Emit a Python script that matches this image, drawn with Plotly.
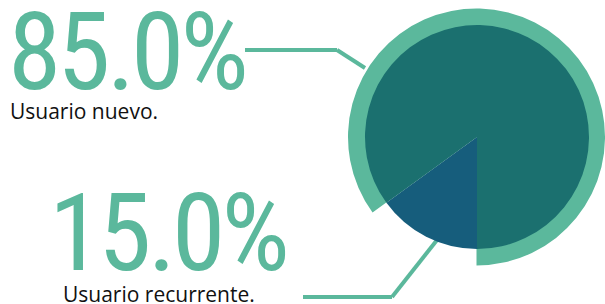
import plotly.graph_objects as go

W, H = 605, 304
labels = ["Usuario recurrente.", "Usuario nuevo."]
values = [15.0, 85.0]
pct_text = ["15.0%", "85.0%"]

GREEN = "#5bb89c"
TEAL = "#1b706f"
BLUE = "#165d7c"

cx, cy = 477, 137
r_in, r_out = 112, 129

def dom(r):
    return dict(x=[(cx - r) / W, min(1, (cx + r) / W)],
                y=[(H - cy - r) / H, (H - cy + r) / H])

fig = go.Figure()
fig.add_trace(go.Pie(values=values, labels=labels, sort=False, direction="clockwise",
                     rotation=180, domain=dom(r_out), textinfo="none", hoverinfo="skip",
                     marker=dict(colors=["rgba(0,0,0,0)", GREEN], line=dict(width=0)),
                     showlegend=False))
fig.add_trace(go.Pie(values=values, labels=labels, sort=False, direction="clockwise",
                     rotation=180, domain=dom(r_in), textinfo="none", hoverinfo="skip",
                     marker=dict(colors=[BLUE, TEAL], line=dict(width=0)),
                     showlegend=False))

def P(x, y):
    return x / W, 1 - y / H

shapes = []
for pts in ([(245, 50), (337, 50), (365, 68)], [(303, 297), (392, 297), (437, 240)]):
    for (x0, y0), (x1, y1) in zip(pts[:-1], pts[1:]):
        a, b = P(x0, y0)
        c, d = P(x1, y1)
        shapes.append(dict(type="line", xref="paper", yref="paper", x0=a, y0=b, x1=c, y1=d,
                           line=dict(color=GREEN, width=4), layer="below"))

big_font = dict(family="Roboto Condensed, Roboto, sans-serif", size=108, color=GREEN)
small_font = dict(family="Open Sans, sans-serif", size=21, color="#111111")

ann = []
def add(x, y, txt, font):
    a, b = P(x, y)
    ann.append(dict(x=a, y=b, xref="paper", yref="paper", text=txt, showarrow=False,
                    xanchor="left", yanchor="middle", font=font, borderpad=0))

cond = '<span style="letter-spacing:-4px">{}</span>'
add(7, 52, cond.format(pct_text[1]), big_font)
add(9, 111, labels[1], small_font)
add(48, 233, cond.format(pct_text[0]), big_font)
add(62, 294, labels[0], small_font)

fig.update_layout(width=W, height=H, margin=dict(l=0, r=0, t=0, b=0),
                  paper_bgcolor="white", plot_bgcolor="white",
                  shapes=shapes, annotations=ann, showlegend=False)
fig.update_xaxes(visible=False); fig.update_yaxes(visible=False)
fig.write_html("out.html", config={"displayModeBar": False},
               post_script="document.body.style.margin='0';")
